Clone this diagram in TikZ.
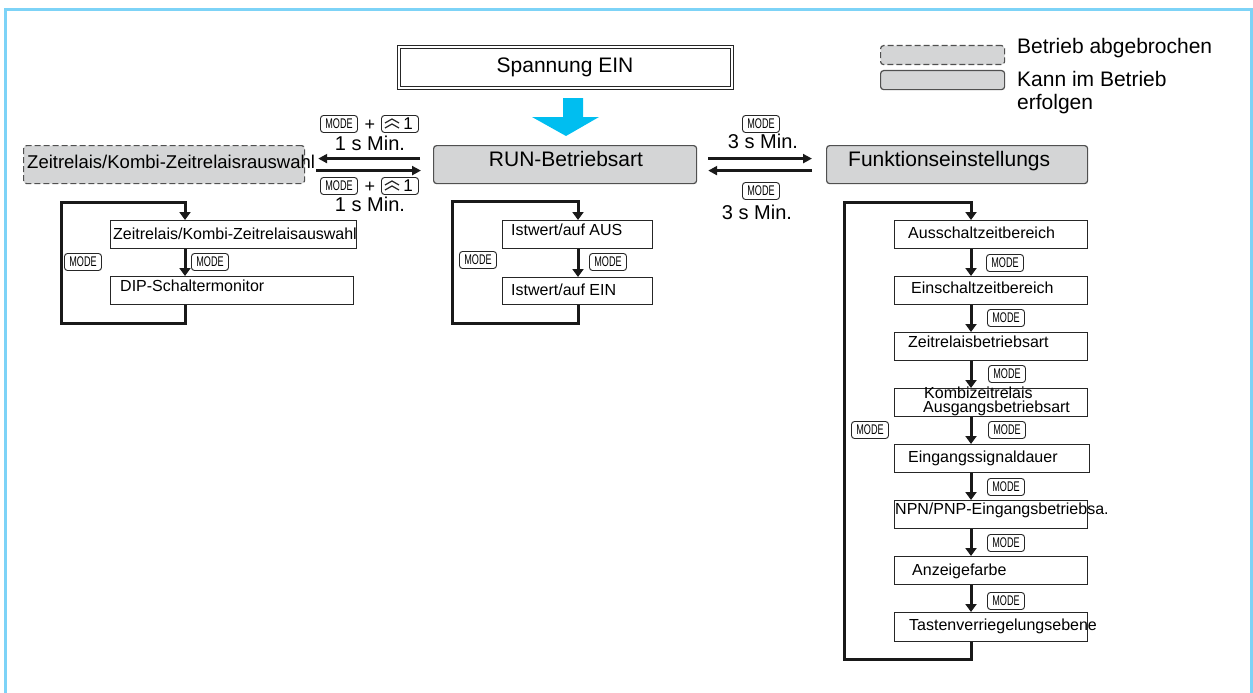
\documentclass[tikz,border=0pt]{standalone}
\usepackage{fontspec}
\setmainfont{Liberation Sans}
\usetikzlibrary{arrows.meta}
\definecolor{frameblue}{HTML}{7DD3F7}
\definecolor{cyanarrow}{HTML}{00BEF0}
\definecolor{boxgray}{HTML}{D4D5D6}
\definecolor{boxedge}{HTML}{505050}
\newcommand\fsz[1]{\fontsize{#1}{#1}\selectfont}
\newcommand\modelbl{\scalebox{0.65}[1]{\fsz{14}MODE}}
\tikzset{
  gbox/.style={draw=boxedge, fill=boxgray, rounded corners=3pt, line width=1.2pt, inner sep=0pt, anchor=north west},
  dbox/.style={gbox, dash pattern=on 6pt off 3pt},
  wbox/.style={draw=black!85, fill=white, line width=1.3pt, inner sep=0pt, anchor=north west},
  txt/.style={inner sep=0pt, anchor=base west, font=\fsz{16}},
  bigtxt/.style={inner sep=0pt, anchor=base west, font=\fsz{21}},
  keybox/.style={draw=black!85, rounded corners=3pt, line width=0.9pt, minimum width=37pt, minimum height=17pt, inner sep=0pt, fill=white},
  loopl/.style={draw=black!90, line width=3pt},
  loopa/.style={loopl, -{Triangle[length=8pt,width=11pt]}},
  harr/.style={draw=black!90, line width=2.5pt, -{Triangle[length=9pt,width=9pt]}},
}
\newcommand\modekey[3]{\node[keybox] (#1) at (#2,#3) {\modelbl};}
\newcommand\upkey[3]{%
  \node[keybox] (#1) at (#2,#3) {};
  \draw[black!85, line width=1.2pt] ([xshift=-15pt,yshift=1pt]#1.center) -- ([xshift=-8pt,yshift=5pt]#1.center) -- ([xshift=-1pt,yshift=1pt]#1.center);
  \draw[black!85, line width=1.2pt] ([xshift=-15pt,yshift=-4pt]#1.center) -- ([xshift=-8pt,yshift=0pt]#1.center) -- ([xshift=-1pt,yshift=-4pt]#1.center);
  \node[inner sep=0pt, font=\fsz{17}] (#1one) at ([xshift=8pt]#1.center) {1};
}
\begin{document}
\begin{tikzpicture}[x=1pt,y=-1pt]
\useasboundingbox (0,0) rectangle (1253,693);
% frame
\draw[frameblue, line width=3pt] (5.5,693) -- (5.5,9.5) -- (1251.5,9.5) -- (1251.5,693);

% power on (double frame)
\node[draw=black!85, line width=1.2pt, fill=white, minimum width=336pt, minimum height=44pt, inner sep=0pt, anchor=north west] (pwr) at (397,45) {};
\draw[black!85, line width=1.2pt] ([xshift=3.5pt,yshift=-3.5pt]pwr.north west) rectangle ([xshift=-3.5pt,yshift=3.5pt]pwr.south east);
\node[inner sep=0pt, anchor=base, font=\fsz{21}] (pwrt) at (565,73) {Spannung EIN};
\fill[cyanarrow] (563,98) -- (583,98) -- (583,117) -- (599,117) -- (566,136) -- (532,117) -- (563,117) -- cycle;

% legend
\node[dbox, minimum width=124pt, minimum height=19pt] (legd) at (880,45) {};
\node[gbox, minimum width=124pt, minimum height=19pt] (legs) at (880,70) {};
\node[bigtxt] (legdt) at (1017,54) {Betrieb abgebrochen};
\node[bigtxt] (legst1) at (1017,86) {Kann im Betrieb};
\node[bigtxt] (legst2) at (1017,110) {erfolgen};

% main mode boxes
\node[dbox, minimum width=281pt, minimum height=38pt] (zk) at (23,145) {};
\node[inner sep=0pt, anchor=base west, font=\fsz{18.5}] (zkt) at (27,168) {Zeitrelais/Kombi-Zeitrelaisrauswahl};
\node[gbox, minimum width=263pt, minimum height=38pt] (run) at (433,145) {};
\node[inner sep=0pt, anchor=base, font=\fsz{21}] (runt) at (566,166) {RUN-Betriebsart};
\node[gbox, minimum width=261pt, minimum height=38pt] (fkt) at (826,145) {};
\node[bigtxt] (fktt) at (848,166) {Funktionseinstellungs};

% arrows between mode boxes
\draw[harr] ([xshift=-13pt,yshift=6pt]run.west) -- ([xshift=13pt,yshift=6pt]zk.east);
\draw[harr] ([xshift=11pt,yshift=-6pt]zk.east) -- ([xshift=-12pt,yshift=-6pt]run.west);
\draw[harr] ([xshift=11pt,yshift=6pt]run.east) -- ([xshift=-14pt,yshift=6pt]fkt.west);
\draw[harr] ([xshift=-14pt,yshift=-6pt]fkt.west) -- ([xshift=11pt,yshift=-6pt]run.east);

% key labels
\modekey{ka1}{339}{124}
\node[inner sep=0pt, font=\fsz{18}] (plus1) at (370,125) {+};
\upkey{ku1}{400}{124}
\node[inner sep=0pt, anchor=base, font=\fsz{20}] (min1) at (370,150) {1 s Min.};
\modekey{ka2}{339}{186}
\node[inner sep=0pt, font=\fsz{18}] (plus2) at (370,187) {+};
\upkey{ku2}{400}{186}
\node[inner sep=0pt, anchor=base, font=\fsz{20}] (min2) at (370,211) {1 s Min.};
\modekey{kb1}{761}{124}
\node[inner sep=0pt, anchor=base, font=\fsz{20}] (min3) at (763,148) {3 s Min.};
\modekey{kb2}{761}{191}
\node[inner sep=0pt, anchor=base, font=\fsz{20}] (min4) at (757,219) {3 s Min.};

% left loop
\node[wbox, minimum width=246pt, minimum height=28pt] (l1) at (110,220) {};
\node[txt] (l1t) at (113,239) {Zeitrelais/Kombi-Zeitrelaisauswahl};
\node[wbox, minimum width=243pt, minimum height=28pt] (l2) at (110,276) {};
\node[txt] (l2t) at (120,291) {DIP-Schaltermonitor};
\coordinate (Ltl) at (61,202);
\coordinate (Lbl) at (61,323);
\coordinate (Lx) at (185,202);
\draw[loopa] (l2.south -| Lx) -- (Lx |- Lbl) -- (Lbl) -- (Ltl) -- (Lx) -- (l1.north -| Lx);
\draw[loopa] (l1.south -| Lx) -- (l2.north -| Lx);
\modekey{kl1}{83}{262}
\modekey{kl2}{210}{262}

% middle loop
\node[wbox, minimum width=150pt, minimum height=28pt] (m1) at (502,220) {};
\node[txt] (m1t) at (511,235) {Istwert/auf AUS};
\node[wbox, minimum width=150pt, minimum height=27pt] (m2) at (502,277) {};
\node[txt] (m2t) at (511,295) {Istwert/auf EIN};
\coordinate (Mtl) at (452,201);
\coordinate (Mbl) at (452,323);
\coordinate (Mx) at (578,201);
\draw[loopa] (m2.south -| Mx) -- (Mx |- Mbl) -- (Mbl) -- (Mtl) -- (Mx) -- (m1.north -| Mx);
\draw[loopa] (m1.south -| Mx) -- (m2.north -| Mx);
\modekey{km1}{478}{260}
\modekey{km2}{608}{262}

% right loop
\node[wbox, minimum width=193pt, minimum height=28pt] (r1) at (894,220) {};
\node[txt] (r1t) at (908,238) {Ausschaltzeitbereich};
\node[wbox, minimum width=193pt, minimum height=28pt] (r2) at (894,276) {};
\node[txt] (r2t) at (911,293) {Einschaltzeitbereich};
\node[wbox, minimum width=193pt, minimum height=28pt] (r3) at (894,332) {};
\node[txt] (r3t) at (908,347) {Zeitrelaisbetriebsart};
\node[wbox, minimum width=193pt, minimum height=28pt] (r4) at (894,388) {};
\node[txt] (r4t1) at (924,398) {Kombizeitrelais};
\node[txt] (r4t2) at (923,412) {Ausgangsbetriebsart};
\node[wbox, minimum width=195pt, minimum height=28pt] (r5) at (894,444) {};
\node[txt] (r5t) at (908,462) {Eingangssignaldauer};
\node[wbox, minimum width=193pt, minimum height=28pt] (r6) at (894,500) {};
\node[txt] (r6t) at (895,514) {NPN/PNP-Eingangsbetriebsa.};
\node[wbox, minimum width=193pt, minimum height=28pt] (r7) at (894,556) {};
\node[txt] (r7t) at (912,575) {Anzeigefarbe};
\node[wbox, minimum width=193pt, minimum height=29pt] (r8) at (894,612) {};
\node[txt] (r8t) at (909,630) {Tastenverriegelungsebene};
\coordinate (Rtl) at (844,202);
\coordinate (Rbl) at (844,659);
\coordinate (Rx) at (971,202);
\draw[loopa] (r8.south -| Rx) -- (Rx |- Rbl) -- (Rbl) -- (Rtl) -- (Rx) -- (r1.north -| Rx);
\draw[loopa] (r1.south -| Rx) -- (r2.north -| Rx);
\draw[loopa] (r2.south -| Rx) -- (r3.north -| Rx);
\draw[loopa] (r3.south -| Rx) -- (r4.north -| Rx);
\draw[loopa] (r4.south -| Rx) -- (r5.north -| Rx);
\draw[loopa] (r5.south -| Rx) -- (r6.north -| Rx);
\draw[loopa] (r6.south -| Rx) -- (r7.north -| Rx);
\draw[loopa] (r7.south -| Rx) -- (r8.north -| Rx);
\modekey{kr1}{1005}{263}
\modekey{kr2}{1006}{318}
\modekey{kr3}{1007}{374}
\modekey{kr4}{1007}{430}
\modekey{kr5}{1006}{487}
\modekey{kr6}{1006}{543}
\modekey{kr7}{1006}{601}
\modekey{kr0}{870}{430}
\end{tikzpicture}
\end{document}
